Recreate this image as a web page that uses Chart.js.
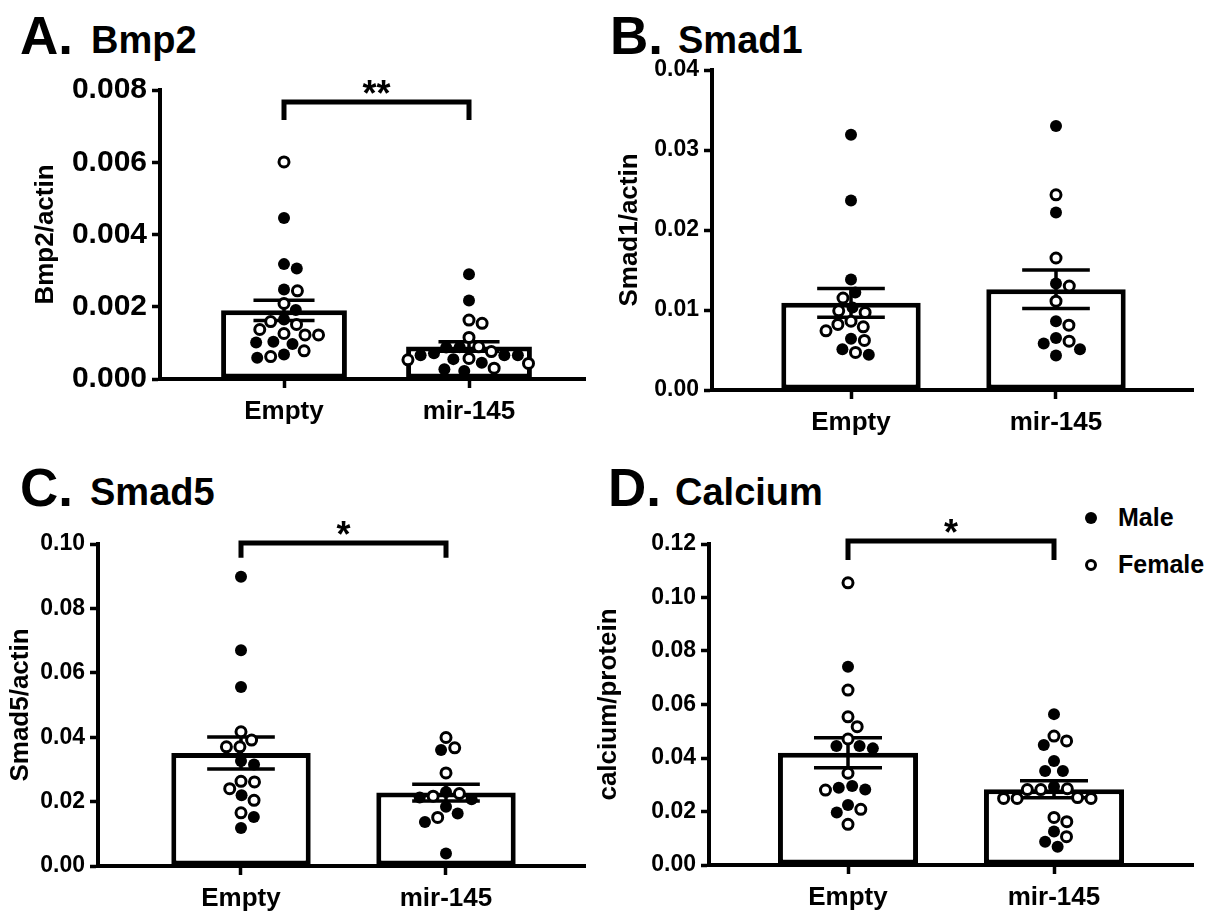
<!DOCTYPE html>
<html>
<head>
<meta charset="utf-8">
<script src="https://cdn.jsdelivr.net/npm/chart.js@4.4.1/dist/chart.umd.min.js"></script>
<style>
  body { margin: 0; width: 1231px; height: 917px; background: #fff; position: relative; overflow: hidden;
         font-family: "Liberation Sans", Arial, sans-serif; font-weight: bold; color: #000; }
  canvas { position: absolute; }
  .t { position: absolute; line-height: 1; white-space: nowrap; }
  .letter { font-size: 53px; }
  .name { font-size: 38px; }
  .lg { position: absolute; font-size: 25px; line-height: 1; white-space: nowrap; }
  .dot { position: absolute; border-radius: 50%; box-sizing: border-box; }
  .male { width: 12px; height: 12px; background: #000; }
  .female { width: 12px; height: 12px; background: #fff; border: 3px solid #000; }
</style>
</head>
<body>
<div class="t letter" style="left:20px;top:9px">A.</div>
<div class="t name" style="left:91px;top:21px">Bmp2</div>
<div class="t letter" style="left:610px;top:9px">B.</div>
<div class="t name" style="left:678px;top:21px">Smad1</div>
<div class="t letter" style="left:20px;top:461px">C.</div>
<div class="t name" style="left:90px;top:473px">Smad5</div>
<div class="t letter" style="left:608px;top:461px">D.</div>
<div class="t name" style="left:675px;top:473px">Calcium</div>

<div class="dot male" style="left:1085px;top:512px"></div>
<div class="lg" style="left:1118px;top:505px">Male</div>
<div class="dot female" style="left:1085px;top:559px"></div>
<div class="lg" style="left:1118px;top:552px">Female</div>

<canvas id="chartA" width="600" height="458" style="left:0px;top:0px"></canvas>
<canvas id="chartB" width="641" height="458" style="left:590px;top:0px"></canvas>
<canvas id="chartC" width="600" height="459" style="left:0px;top:458px"></canvas>
<canvas id="chartD" width="641" height="459" style="left:590px;top:458px"></canvas>

<script>
"use strict";
const categories = ['Empty', 'mir-145'];

// A. Bmp2
const bmp2EmptyMale = [0.00446, 0.00318, 0.00306, 0.00248, 0.00191, 0.00165, 0.00101, 0.00097, 0.00103, 0.00068, 0.00059];
const bmp2EmptyFemale = [0.00601, 0.00244, 0.00209, 0.00159, 0.00151, 0.00137, 0.00122, 0.00126, 0.00122, 0.00078, 0.00062];
const bmp2MirMale = [0.00290, 0.00217, 0.00088, 0.00087, 0.00066, 0.00066, 0.00066, 0.00071, 0.00055, 0.00045, 0.00022, 0.00027];
const bmp2MirFemale = [0.00163, 0.00154, 0.00115, 0.00089, 0.00076, 0.00053, 0.00057, 0.00043, 0.00030];
const bmp2Mean = [0.0019, 0.0009];
const bmp2Sem = [0.00028, 0.00013];
const bmp2Ticks = [0, 0.002, 0.004, 0.006, 0.008];

// B. Smad1
const smad1EmptyMale = [0.0319, 0.0237, 0.0138, 0.0122, 0.0103, 0.0064, 0.0051, 0.0044];
const smad1EmptyFemale = [0.0115, 0.0099, 0.0097, 0.0086, 0.0082, 0.0079, 0.0074, 0.0062, 0.0047];
const smad1MirMale = [0.0330, 0.0222, 0.0133, 0.0086, 0.0065, 0.0058, 0.0051, 0.0043];
const smad1MirFemale = [0.0244, 0.0165, 0.0130, 0.0111, 0.0081, 0.0061];
const smad1Mean = [0.0109, 0.0126];
const smad1Sem = [0.0018, 0.0024];
const smad1Ticks = [0, 0.01, 0.02, 0.03, 0.04];

// C. Smad5
const smad5EmptyMale = [0.0898, 0.0670, 0.0556, 0.0326, 0.0315, 0.0220, 0.0152, 0.0118];
const smad5EmptyFemale = [0.0417, 0.0391, 0.0370, 0.0370, 0.0263, 0.0261, 0.0240, 0.0204, 0.0165];
const smad5MirMale = [0.0360, 0.0230, 0.0213, 0.0207, 0.0184, 0.0163, 0.0137, 0.0039];
const smad5MirFemale = [0.0399, 0.0367, 0.0289, 0.0217, 0.0225, 0.0151];
const smad5Mean = [0.0351, 0.0228];
const smad5Sem = [0.0050, 0.0026];
const smad5Ticks = [0, 0.02, 0.04, 0.06, 0.08, 0.10];

// D. Calcium
const calciumEmptyMale = [0.0741, 0.0445, 0.0436, 0.0445, 0.0282, 0.0289, 0.0295, 0.0224, 0.0196];
const calciumEmptyFemale = [0.1055, 0.0654, 0.0554, 0.0517, 0.0471, 0.0343, 0.0280, 0.0208, 0.0152];
const calciumMirMale = [0.0564, 0.0449, 0.0389, 0.0351, 0.0351, 0.0293, 0.0125, 0.0087, 0.0068];
const calciumMirFemale = [0.0482, 0.0464, 0.0282, 0.0282, 0.0285, 0.0249, 0.0249, 0.0249, 0.0252, 0.0162, 0.0178, 0.0106];
const calciumMean = [0.0420, 0.0283];
const calciumSem = [0.0056, 0.0032];
const calciumTicks = [0, 0.02, 0.04, 0.06, 0.08, 0.10, 0.12];

const FONT = '"Liberation Sans", Arial, sans-serif';

// layout of each panel: canvas box and plot area in page pixels, category centres
const panels = [
  { id: 'chartA', box: [0, 0, 600, 458], area: [160, 90, 585, 379], cats: [284, 469],
    yTitle: 'Bmp2/actin', titlePad: 30, tickSize: 30, digits: 3, ticks: bmp2Ticks,
    groups: [[bmp2EmptyMale, bmp2EmptyFemale], [bmp2MirMale, bmp2MirFemale]],
    mean: bmp2Mean, sem: bmp2Sem, sig: { y: 0.00767, leg: 0.00717, text: '**' } },
  { id: 'chartB', box: [590, 0, 641, 458], area: [712, 70, 1193, 390], cats: [851, 1056],
    yTitle: 'Smad1/actin', titlePad: 24, tickSize: 23, digits: 2, ticks: smad1Ticks,
    groups: [[smad1EmptyMale, smad1EmptyFemale], [smad1MirMale, smad1MirFemale]],
    mean: smad1Mean, sem: smad1Sem, sig: null },
  { id: 'chartC', box: [0, 458, 600, 459], area: [98, 544, 585, 866], cats: [241, 446],
    yTitle: 'Smad5/actin', titlePad: 5, tickSize: 23, digits: 2, ticks: smad5Ticks,
    groups: [[smad5EmptyMale, smad5EmptyFemale], [smad5MirMale, smad5MirFemale]],
    mean: smad5Mean, sem: smad5Sem, sig: { y: 0.1003, leg: 0.0957, text: '*' } },
  { id: 'chartD', box: [590, 458, 641, 459], area: [709, 544, 1193, 865], cats: [848, 1054],
    yTitle: 'calcium/protein', titlePad: 3, tickSize: 23, digits: 2, ticks: calciumTicks,
    groups: [[calciumEmptyMale, calciumEmptyFemale], [calciumMirMale, calciumMirFemale]],
    mean: calciumMean, sem: calciumSem, sig: { y: 0.1211, leg: 0.1140, text: '*' } }
];

const CAP = 0.165;     // half width of error bar caps, in category units
const DOT_GAP = 13.5;  // min centre distance of dots in px

// error bars (mean +/- SEM) and the significance bracket
function makeExtras(P) {
  return {
    id: 'extras',
    afterDatasetDraw(chart, args) {
      if (args.meta.type !== 'bar') return;
      const xs = chart.scales.x, ys = chart.scales.y, ctx = chart.ctx;
      ctx.save();
      ctx.strokeStyle = '#000';
      ctx.lineWidth = 3.5;
      P.mean.forEach((m, i) => {
        const x = xs.getPixelForValue(i);
        const x0 = xs.getPixelForValue(i - CAP), x1 = xs.getPixelForValue(i + CAP);
        const yt = ys.getPixelForValue(m + P.sem[i]), yb = ys.getPixelForValue(m - P.sem[i]);
        ctx.beginPath();
        ctx.moveTo(x, yt); ctx.lineTo(x, yb);
        ctx.moveTo(x0, yt); ctx.lineTo(x1, yt);
        ctx.moveTo(x0, yb); ctx.lineTo(x1, yb);
        ctx.stroke();
      });
      ctx.restore();
    },
    afterDraw(chart) {
      if (!P.sig) return;
      const xs = chart.scales.x, ys = chart.scales.y, ctx = chart.ctx;
      const xa = xs.getPixelForValue(0), xb = xs.getPixelForValue(1);
      const yTop = ys.getPixelForValue(P.sig.y), yLeg = ys.getPixelForValue(P.sig.leg);
      ctx.save();
      ctx.strokeStyle = '#000';
      ctx.lineWidth = 5;
      ctx.beginPath();
      ctx.moveTo(xa, yLeg); ctx.lineTo(xa, yTop); ctx.lineTo(xb, yTop); ctx.lineTo(xb, yLeg);
      ctx.stroke();
      const fs = 36;
      ctx.fillStyle = '#000';
      ctx.font = 'bold ' + fs + 'px ' + FONT;
      ctx.textAlign = 'center';
      ctx.textBaseline = 'alphabetic';
      ctx.fillText(P.sig.text, (xa + xb) / 2, yTop - 16 + 0.56 * fs);
      ctx.restore();
    }
  };
}

// spread the dots of each group sideways so they do not overlap (simple beeswarm)
function placeDots(chart, P) {
  const xs = chart.scales.x, ys = chart.scales.y;
  const pxPerCat = xs.getPixelForValue(1) - xs.getPixelForValue(0);
  const male = [], female = [];
  P.groups.forEach((g, gi) => {
    const pts = g[0].map(v => ({ v, m: true })).concat(g[1].map(v => ({ v, m: false })));
    pts.sort((a, b) => b.v - a.v);
    const placed = [];
    pts.forEach(p => {
      const py = ys.getPixelForValue(p.v);
      const cands = [0];
      placed.forEach(q => {
        const dy = py - q.y;
        if (Math.abs(dy) < DOT_GAP) {
          const dx = Math.sqrt(DOT_GAP * DOT_GAP - dy * dy);
          cands.push(q.x + dx, q.x - dx);
        }
      });
      cands.sort((a, b) => Math.abs(a) - Math.abs(b));
      const px = cands.find(c => placed.every(q => (c - q.x) ** 2 + (py - q.y) ** 2 >= DOT_GAP * DOT_GAP - 0.01));
      placed.push({ x: px, y: py });
      (p.m ? male : female).push({ x: gi + px / pxPerCat, y: p.v });
    });
  });
  chart.data.datasets[1].data = male;
  chart.data.datasets[2].data = female;
  chart.update('none');
}

panels.forEach(P => {
  const span = P.cats[1] - P.cats[0];
  const xMin = -(P.cats[0] - P.area[0]) / span;
  const xMax = 1 + (P.area[2] - P.cats[1]) / span;
  const axisFont = size => ({ family: FONT, size: size, weight: 'bold' });

  const chart = new Chart(document.getElementById(P.id), {
    type: 'bar',
    data: {
      datasets: [
        { type: 'bar', data: P.mean.map((m, i) => ({ x: i, y: m })), order: 2,
          backgroundColor: '#fff', borderColor: '#000', borderWidth: 5, borderSkipped: false,
          barPercentage: 0.68, categoryPercentage: 1, clip: false },
        { type: 'scatter', label: 'Male', order: 0, clip: false,
          data: P.groups.flatMap((g, gi) => g[0].map(v => ({ x: gi, y: v }))),
          pointRadius: 6, pointHoverRadius: 6, backgroundColor: '#000', borderColor: '#000', borderWidth: 0 },
        { type: 'scatter', label: 'Female', order: 1, clip: false,
          data: P.groups.flatMap((g, gi) => g[1].map(v => ({ x: gi, y: v }))),
          pointRadius: 5, pointHoverRadius: 5, backgroundColor: '#fff', borderColor: '#000', borderWidth: 3 }
      ]
    },
    options: {
      responsive: false,
      animation: false,
      events: [],
      layout: { padding: { left: 0, bottom: 0, top: P.area[1] - P.box[1], right: P.box[0] + P.box[2] - P.area[2] } },
      plugins: { legend: { display: false }, tooltip: { enabled: false } },
      scales: {
        x: {
          type: 'linear', min: xMin, max: xMax, offset: false,
          afterBuildTicks: s => { s.ticks = categories.map((c, i) => ({ value: i })); },
          afterFit: s => { s.height = P.box[1] + P.box[3] - P.area[3]; },
          ticks: { callback: v => categories[v], color: '#000', font: axisFont(26), padding: 8,
                   maxRotation: 0, autoSkip: false },
          grid: { offset: false, drawOnChartArea: false, drawTicks: true, tickLength: 9, tickWidth: 3.5, tickColor: '#000' },
          border: { display: true, color: '#000', width: 4 }
        },
        y: {
          min: 0, max: P.ticks[P.ticks.length - 1],
          afterBuildTicks: s => { s.ticks = P.ticks.map(v => ({ value: v })); },
          afterFit: s => { s.width = P.area[0] - P.box[0]; },
          ticks: { callback: v => v.toFixed(P.digits), color: '#000', font: axisFont(P.tickSize), padding: 5 },
          grid: { drawOnChartArea: false, drawTicks: true, tickLength: 8, tickWidth: 3.5, tickColor: '#000' },
          border: { display: true, color: '#000', width: 4 },
          title: { display: true, text: P.yTitle, color: '#000', font: axisFont(26),
                   padding: { top: P.titlePad, bottom: 0 } }
        }
      }
    },
    plugins: [makeExtras(P)]
  });
  placeDots(chart, P);
});
</script>
</body>
</html>
